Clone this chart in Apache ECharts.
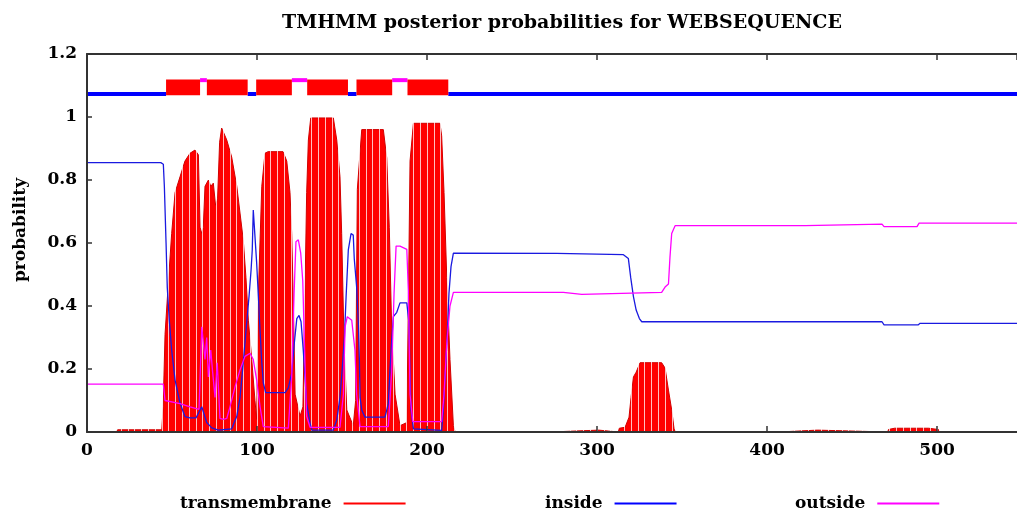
<!DOCTYPE html>
<html>
<head>
<meta charset="utf-8">
<style>
  html, body { margin: 0; padding: 0; background: #fff; }
  #chart { width: 1017px; height: 518px; }
</style>
<script src="https://cdn.jsdelivr.net/npm/echarts@6.0.0/dist/echarts.min.js"></script>
</head>
<body>
<div id="chart"></div>
<script>
const SEQ_LENGTH = 547;
const FONT = "DejaVu Serif";

// posterior probabilities, [residue, probability]
const transmembrane = [
  [0, 0], [17.5, 0], [18, 0.007], [44, 0.007], [44.8, 0.08], [45.9, 0.31], [47.8, 0.47],
  [49.8, 0.63], [51.8, 0.76], [54.7, 0.81], [57.6, 0.86], [60.6, 0.885], [63.5, 0.895],
  [65.5, 0.88], [66.5, 0.65], [67.5, 0.63], [68.4, 0.65], [69.4, 0.78], [71.4, 0.8],
  [72.8, 0.78], [74.3, 0.79], [75.6, 0.72], [76.8, 0.74], [78, 0.92], [79.2, 0.965],
  [82.2, 0.927], [85.1, 0.873], [88.1, 0.78], [90, 0.695], [91.9, 0.61], [93.5, 0.49],
  [94.9, 0.355], [96.9, 0.23], [98.8, 0.1], [99.8, 0.04], [100.8, 0.44], [102.8, 0.78],
  [104.7, 0.885], [106.5, 0.89], [115.3, 0.89], [117.5, 0.86], [119.4, 0.76], [120.4, 0.63],
  [121.4, 0.4], [122.4, 0.12], [125.3, 0.05], [127, 0.08], [128.2, 0.44], [129.2, 0.76],
  [130.2, 0.927], [131.6, 0.997], [144.9, 0.997], [146.9, 0.927], [148.8, 0.81], [149.8, 0.63],
  [151.2, 0.28], [152.8, 0.07], [156.6, 0.02], [158, 0.1], [159, 0.77], [161.6, 0.96],
  [174.3, 0.96], [176.3, 0.87], [177.8, 0.65], [179.2, 0.33], [181.2, 0.12], [184.1, 0.02],
  [188.1, 0.03], [189, 0.4], [190, 0.86], [192, 0.98], [207.6, 0.98], [208.6, 0.94],
  [210, 0.76], [211.6, 0.49], [213.5, 0.23], [215.5, 0.02], [216.5, 0],
  [272.5, 0], [273, 0.006], [301, 0.006], [301.5, 0], [312.5, 0], [313.1, 0.012],
  [316.5, 0.015], [318.8, 0.047], [320, 0.11], [321.4, 0.175], [323, 0.19], [325.3, 0.22],
  [338, 0.22], [340, 0.203], [342, 0.133], [343.9, 0.07], [345.3, 0.01], [346, 0],
  [407, 0], [407.6, 0.006], [429.6, 0.006], [430, 0], [471, 0], [471.4, 0.008],
  [475, 0.012], [495, 0.012], [500.8, 0.008], [501, 0], [547, 0]
];

const inside = [
  [0, 0.855], [43.4, 0.855], [44.9, 0.85], [45.5, 0.78], [46.5, 0.6], [47.2, 0.46],
  [48.4, 0.355], [49.8, 0.26], [51.8, 0.165], [54.7, 0.092], [57.6, 0.049], [60.6, 0.045],
  [64.1, 0.045], [67.5, 0.08], [70.4, 0.03], [73.4, 0.013], [77.2, 0.006], [85.1, 0.01],
  [88.1, 0.05], [90, 0.11], [91.9, 0.22], [93.9, 0.345], [95.3, 0.43], [96.5, 0.514],
  [97.2, 0.578], [97.8, 0.705], [98.8, 0.705], [99.8, 0.536], [100.8, 0.43], [101.8, 0.32],
  [102.8, 0.22], [103.7, 0.156], [105.1, 0.125], [116.5, 0.125], [118.4, 0.14], [120.4, 0.187],
  [121.9, 0.28], [123.4, 0.36], [124.7, 0.37], [125.9, 0.35], [127.2, 0.26], [128.2, 0.175],
  [129.2, 0.09], [131.2, 0.028], [132.2, 0.006], [144.9, 0.006], [146.9, 0.038], [148.8, 0.11],
  [150.2, 0.207], [151.4, 0.3], [152.4, 0.43], [153.7, 0.578], [155.3, 0.63], [156.6, 0.625],
  [157.2, 0.55], [158.6, 0.46], [159.6, 0.345], [160.2, 0.23], [160.6, 0.11], [161.6, 0.07],
  [163.5, 0.047], [175.3, 0.047], [177.2, 0.09], [178.2, 0.197], [179.2, 0.29], [180.2, 0.366],
  [182.2, 0.38], [184.1, 0.41], [188.1, 0.41], [189.4, 0.345], [190, 0.175], [190.6, 0.07],
  [192, 0.01], [208.6, 0.005], [209.6, 0.07], [210.6, 0.175], [211.8, 0.3], [212.9, 0.44],
  [214.1, 0.525], [215.5, 0.568], [276.3, 0.567], [277, 0.563], [315.5, 0.563], [318.4, 0.551],
  [319.8, 0.49], [321.4, 0.43], [323, 0.387], [324.9, 0.36], [326.3, 0.35], [467.6, 0.35],
  [468.8, 0.34], [488.8, 0.34], [490, 0.345], [547, 0.345]
];

const outside = [
  [0, 0.152], [44.9, 0.152], [45.9, 0.1], [46.9, 0.1], [54.7, 0.09], [60.6, 0.08],
  [65.9, 0.072], [67.5, 0.334], [69.4, 0.23], [70.4, 0.3], [71.4, 0.175], [72.8, 0.26],
  [73.9, 0.19], [75.3, 0.11], [76.6, 0.22], [78.2, 0.043], [80.2, 0.04], [82.2, 0.043],
  [84.1, 0.08], [87.1, 0.144], [90, 0.197], [92.9, 0.24], [95.9, 0.25], [97.8, 0.23],
  [99.8, 0.165], [101.8, 0.08], [103.7, 0.017], [118.4, 0.012], [120.4, 0.175], [121.8, 0.44],
  [122.9, 0.604], [124.3, 0.61], [125.7, 0.568], [126.9, 0.48], [128.2, 0.22], [129.2, 0.05],
  [131.2, 0.015], [148.8, 0.015], [150.8, 0.12], [151.8, 0.334], [153.1, 0.366], [155.7, 0.355],
  [157.6, 0.26], [158.6, 0.12], [160.6, 0.017], [177.2, 0.017], [179.2, 0.19], [180.6, 0.44],
  [181.8, 0.59], [184.1, 0.59], [188.1, 0.58], [189, 0.45], [190, 0.12], [191.6, 0.033],
  [208.6, 0.033], [210, 0.12], [211.6, 0.28], [213.5, 0.4], [215.5, 0.443], [280.2, 0.443],
  [281.2, 0.437], [291, 0.437], [291.8, 0.443], [338, 0.443], [340, 0.46], [342, 0.47],
  [342.9, 0.556], [343.9, 0.63], [345.9, 0.655], [422.4, 0.655], [423.5, 0.66], [467.6, 0.66],
  [468.8, 0.652], [488.2, 0.652], [489.4, 0.663], [547, 0.663]
];

// predicted topology, [first residue, last residue]
const tmSegments = [[47, 66], [71, 94], [100, 120], [130, 153], [159, 179], [189, 212]];
const insideSegments = [[1, 46], [95, 99], [154, 158], [213, 547]];
const outsideSegments = [[67, 70], [121, 129], [180, 188]];

const INSIDE_LEVEL = 1.073;
const OUTSIDE_LEVEL = 1.117;

const yTicks = [0, 0.2, 0.4, 0.6, 0.8, 1, 1.2];

const RED = "#ff0000";
const BLUE = "#0000ff";
const MAGENTA = "#ff00ff";
const AXIS = "#333333";

const textBold = (size) => ({
  fontFamily: FONT,
  fontWeight: "bold",
  fontSize: size,
  color: "#000"
});

function segmentBox(color, lo, hi) {
  return (params, api) => {
    const p0 = api.coord([api.value(0) - 0.5, hi]);
    const p1 = api.coord([api.value(1) + 0.5, lo]);
    return {
      type: "rect",
      shape: { x: p0[0], y: p0[1], width: p1[0] - p0[0], height: p1[1] - p0[1] },
      style: { fill: color }
    };
  };
}

function segmentLine(color, level, thickness) {
  return (params, api) => {
    const p0 = api.coord([api.value(0) - 0.5, level]);
    const p1 = api.coord([api.value(1) + 0.5, level]);
    return {
      type: "rect",
      shape: { x: p0[0], y: p0[1] - thickness / 2, width: p1[0] - p0[0], height: thickness },
      style: { fill: color }
    };
  };
}

function legendAt(name, color, left) {
  return {
    data: [{ name, itemStyle: { color } }],
    left,
    top: 490,
    align: "right",
    icon: "rect",
    itemWidth: 62,
    itemHeight: 2,
    selectedMode: false,
    textStyle: { ...textBold(17), padding: [0, 7, 0, 0] }
  };
}

const chart = echarts.init(document.getElementById("chart"), null, { renderer: "canvas" });

chart.setOption({
  animation: false,
  backgroundColor: "#fff",
  title: {
    text: "TMHMM posterior probabilities for WEBSEQUENCE",
    left: 277,
    top: 9,
    textStyle: textBold(19)
  },
  legend: [
    legendAt("transmembrane", RED, 175),
    legendAt("inside", BLUE, 540),
    legendAt("outside", MAGENTA, 790)
  ],
  grid: { left: 87, right: 0, top: 54, bottom: 86, containLabel: false },
  xAxis: [
    {
      type: "value",
      position: "bottom",
      min: 0,
      max: SEQ_LENGTH,
      interval: 100,
      z: 6,
      axisLine: { show: true, lineStyle: { color: AXIS, width: 2 } },
      axisTick: { show: true, inside: true, length: 6, lineStyle: { color: AXIS, width: 1.5 } },
      axisLabel: { ...textBold(17), margin: 10, showMaxLabel: false },
      splitLine: { show: false }
    },
    {
      type: "value",
      position: "top",
      min: 0,
      max: SEQ_LENGTH,
      interval: 100,
      z: 6,
      axisLine: { show: true, lineStyle: { color: AXIS, width: 2 } },
      axisTick: { show: true, inside: true, length: 6, lineStyle: { color: AXIS, width: 1.5 } },
      axisLabel: { show: false },
      splitLine: { show: false }
    },
    {
      // faint gaps between the impulses of the transmembrane trace
      type: "value",
      min: 0,
      max: SEQ_LENGTH,
      interval: 4,
      z: 3,
      axisLine: { show: false },
      axisTick: { show: false },
      axisLabel: { show: false },
      splitLine: { show: true, lineStyle: { color: "rgba(255,255,255,0.75)", width: 1 } }
    }
  ],
  yAxis: {
    type: "value",
    min: yTicks[0],
    max: yTicks[yTicks.length - 1],
    interval: 0.2,
    z: 6,
    name: "probability",
    nameLocation: "middle",
    nameRotate: 90,
    nameGap: 58,
    nameTextStyle: { ...textBold(17), padding: [0, 0, 0, 26] },
    axisLine: { show: true, lineStyle: { color: AXIS, width: 2 } },
    axisTick: { show: true, inside: true, length: 5, lineStyle: { color: AXIS, width: 1.5 } },
    axisLabel: { ...textBold(17), margin: 10 },
    splitLine: { show: false }
  },
  series: [
    {
      name: "transmembrane",
      type: "line",
      data: transmembrane,
      showSymbol: false,
      silent: true,
      z: 2,
      color: RED,
      lineStyle: { width: 1, color: "#d20000" },
      areaStyle: { color: RED, opacity: 1 }
    },
    {
      name: "inside",
      type: "line",
      data: inside,
      showSymbol: false,
      silent: true,
      z: 4,
      color: BLUE,
      lineStyle: { width: 1.3, color: "#1a1ae0" }
    },
    {
      name: "outside",
      type: "line",
      data: outside,
      showSymbol: false,
      silent: true,
      z: 4,
      color: MAGENTA,
      lineStyle: { width: 1.3, color: MAGENTA }
    },
    {
      name: "topology-inside",
      type: "custom",
      data: insideSegments,
      silent: true,
      z: 5,
      clip: true,
      renderItem: segmentLine(BLUE, INSIDE_LEVEL, 4)
    },
    {
      name: "topology-outside",
      type: "custom",
      data: outsideSegments,
      silent: true,
      z: 5,
      clip: true,
      renderItem: segmentLine(MAGENTA, OUTSIDE_LEVEL, 4)
    },
    {
      name: "topology-tm",
      type: "custom",
      data: tmSegments,
      silent: true,
      z: 5,
      clip: true,
      renderItem: segmentBox(RED, INSIDE_LEVEL - 0.004, OUTSIDE_LEVEL + 0.002)
    }
  ]
});
</script>
</body>
</html>
